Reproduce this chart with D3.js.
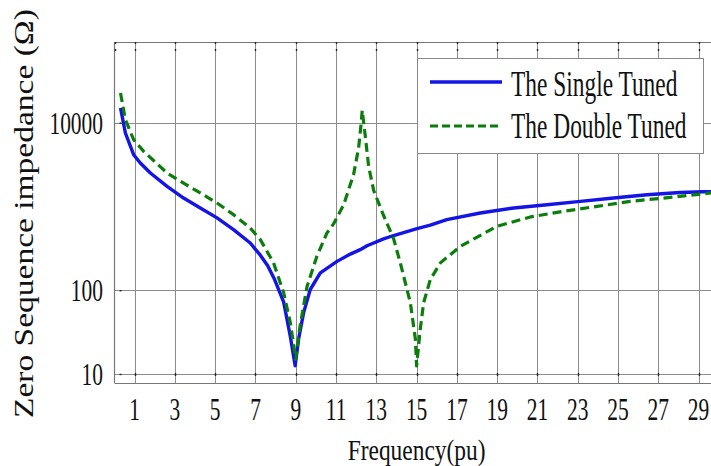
<!DOCTYPE html>
<html>
<head>
<meta charset="utf-8">
<script src="https://cdn.jsdelivr.net/npm/d3@7"></script>
<style>
  html, body { margin: 0; padding: 0; background: #fff; }
  svg { display: block; }
  text { font-family: "Liberation Serif", "Times New Roman", serif; fill: #111; }
</style>
</head>
<body>
<svg id="chart" width="711" height="466"></svg>
<script>
// Zero-sequence impedance magnitude (ohm) against harmonic frequency (pu)
const singleFreq = [0.3, 0.54, 0.95, 1.28, 1.78, 2.61, 3.43, 4.26, 5.09, 5.91, 6.74, 7.24, 7.6, 7.95, 8.4, 8.73, 8.97,
  9.14, 9.39, 9.72, 10.22, 11.05, 11.71, 12.2, 12.54, 13.36, 13.86, 14.19, 15.02, 15.68, 16.5, 18.16, 19.82,
  21.47, 23.13, 24.78, 26.44, 28.09, 29.6, 30];
const singleZ = [15000, 7540, 4150, 3300, 2510, 1740, 1260, 960, 730, 528, 366, 262, 197, 134, 72, 28, 12.5,
  26, 54, 102, 161, 221, 270, 305, 340, 410, 450, 475, 545, 600, 695, 836, 960,
  1050, 1150, 1260, 1380, 1470, 1510, 1530];

const doubleFreq = [0.3, 0.54, 0.95, 1.45, 2.61, 3.43, 4.26, 5.09, 5.91, 6.74, 7.24, 7.9, 8.4, 8.73, 9.0,
  9.21, 9.56, 10.05, 10.55, 10.88, 11.38, 11.87, 12.12, 12.25, 12.3, 12.45, 12.62, 12.87, 13.36, 13.86,
  14.19, 14.69, 14.94, 15.0, 15.18, 15.35, 15.68, 16.18, 17.17, 18.99, 20.65, 22.3, 23.96, 25.61, 27.27, 29.6, 30];
const doubleZ = [22600, 10900, 6270, 4550, 2510, 1900, 1450, 1100, 798, 553, 402, 212, 93, 41, 15,
  37, 111, 254, 483, 620, 1050, 2400, 5000, 10000, 14000, 7000, 3000, 1550, 780, 410,
  212, 71, 26, 12.5, 34, 71, 134, 212, 334, 580, 750, 875, 1003, 1150, 1260, 1450, 1470];

const seriesNames = ["The Single Tuned", "The Double Tuned"];
const xTicks = [1, 3, 5, 7, 9, 11, 13, 15, 17, 19, 21, 23, 25, 27, 29];
const yTicks = [10, 100, 10000];
const yTickLabels = ["10", "100", "10000"];
const xDomain = [0, 30];
const yDomain = [7.8, 92000];
const xTitle = "Frequency(pu)";
const yTitle = "Zero Sequence impedance (\u03A9)";

const svg = d3.select("#chart");
const W = 711, H = 466;
const box = { left: 114.5, right: 718.7, top: 42, bottom: 383 };

const x = d3.scaleLinear().domain(xDomain).range([box.left, box.right]);
const y = d3.scaleLog().domain(yDomain).range([box.bottom, box.top]);

svg.append("rect").attr("width", W).attr("height", H).attr("fill", "#fff");

// condensed serif text helper
function label(parent, px, py, str, size, sx, anchor) {
  return parent.append("text")
    .attr("transform", `translate(${px},${py}) scale(${sx},1)`)
    .attr("text-anchor", anchor)
    .attr("font-size", size)
    .text(str);
}

// grid
const grid = svg.append("g").attr("stroke", "#8c8c8c").attr("stroke-width", 1).attr("fill", "none");
grid.selectAll(".gx").data(xTicks).join("line")
  .attr("x1", d => Math.round(x(d)) + 0.5).attr("x2", d => Math.round(x(d)) + 0.5)
  .attr("y1", box.top).attr("y2", box.bottom);
grid.selectAll(".gy").data(yTicks).join("line")
  .attr("x1", box.left).attr("x2", box.right)
  .attr("y1", d => Math.round(y(d)) + 0.5).attr("y2", d => Math.round(y(d)) + 0.5);

// frame
const frame = svg.append("g").attr("stroke", "#777").attr("stroke-width", 1.2);
frame.append("line").attr("x1", box.left).attr("x2", box.left).attr("y1", box.top).attr("y2", box.bottom);
frame.append("line").attr("x1", box.left).attr("x2", box.right).attr("y1", box.top + 0.5).attr("y2", box.top + 0.5);
frame.append("line").attr("x1", box.left).attr("x2", box.right).attr("y1", box.bottom + 0.5).attr("y2", box.bottom + 0.5);

// small tick marks
const ticks = svg.append("g").attr("stroke", "#222").attr("stroke-width", 1.4);
ticks.selectAll(".tt").data([0].concat(xTicks)).join("line")
  .attr("x1", d => Math.round(x(d)) + 0.5).attr("x2", d => Math.round(x(d)) + 0.5)
  .attr("y1", box.top).attr("y2", box.top + 10)
  .attr("stroke-dasharray", "2,5");
ticks.selectAll(".tb").data(xTicks).join("line")
  .attr("x1", d => Math.round(x(d)) + 0.5).attr("x2", d => Math.round(x(d)) + 0.5)
  .attr("y1", y(10) - 1).attr("y2", y(10) + 2);
ticks.selectAll(".tl").data(yTicks).join("line")
  .attr("x1", box.left + 5).attr("x2", box.left + 7)
  .attr("y1", d => y(d) + 0.5).attr("y2", d => y(d) + 0.5);

// tick labels
const xl = svg.append("g");
xTicks.forEach(t => label(xl, x(t), 420, String(t), 32, 0.67, "middle"));
const yl = svg.append("g");
yTicks.forEach((t, i) => label(yl, 103, y(t) + 11, yTickLabels[i], 32, 0.67, "end"));

// axis titles
label(svg, (box.left + box.right) / 2, 460, xTitle, 30, 0.78, "middle");
svg.append("text")
  .attr("transform", `translate(33,418) rotate(-90) scale(1,0.81)`)
  .attr("text-anchor", "start")
  .attr("font-size", 33.5)
  .text(yTitle);

// curves
svg.append("clipPath").attr("id", "plotclip").append("rect")
  .attr("x", box.left).attr("y", box.top).attr("width", box.right - box.left).attr("height", box.bottom - box.top);

const line = d3.line().x(d => x(d[0])).y(d => y(d[1])).curve(d3.curveLinear);
const singleData = d3.zip(singleFreq, singleZ);
const doubleData = d3.zip(doubleFreq, doubleZ);

const plot = svg.append("g").attr("clip-path", "url(#plotclip)");
plot.append("path").datum(singleData)
  .attr("d", line).attr("fill", "none")
  .attr("stroke", "#1414e6").attr("stroke-width", 3.4).attr("stroke-linejoin", "round");
plot.append("path").datum(doubleData)
  .attr("d", line).attr("fill", "none")
  .attr("stroke", "#0b7d0b").attr("stroke-width", 3.2).attr("stroke-dasharray", "9,5")
  .attr("stroke-linejoin", "round");

// legend
const lg = svg.append("g");
lg.append("rect").attr("x", 417.5).attr("y", 58.5).attr("width", 286).attr("height", 95)
  .attr("fill", "#fff").attr("stroke", "#888").attr("stroke-width", 1);
lg.append("line").attr("x1", 430).attr("x2", 502).attr("y1", 82).attr("y2", 82)
  .attr("stroke", "#1414e6").attr("stroke-width", 3.4);
lg.append("line").attr("x1", 430).attr("x2", 502).attr("y1", 126).attr("y2", 126)
  .attr("stroke", "#0b7d0b").attr("stroke-width", 3.2).attr("stroke-dasharray", "8,4");
label(lg, 511, 96, seriesNames[0], 36, 0.65, "start");
label(lg, 511, 138, seriesNames[1], 36, 0.65, "start");
</script>
</body>
</html>
